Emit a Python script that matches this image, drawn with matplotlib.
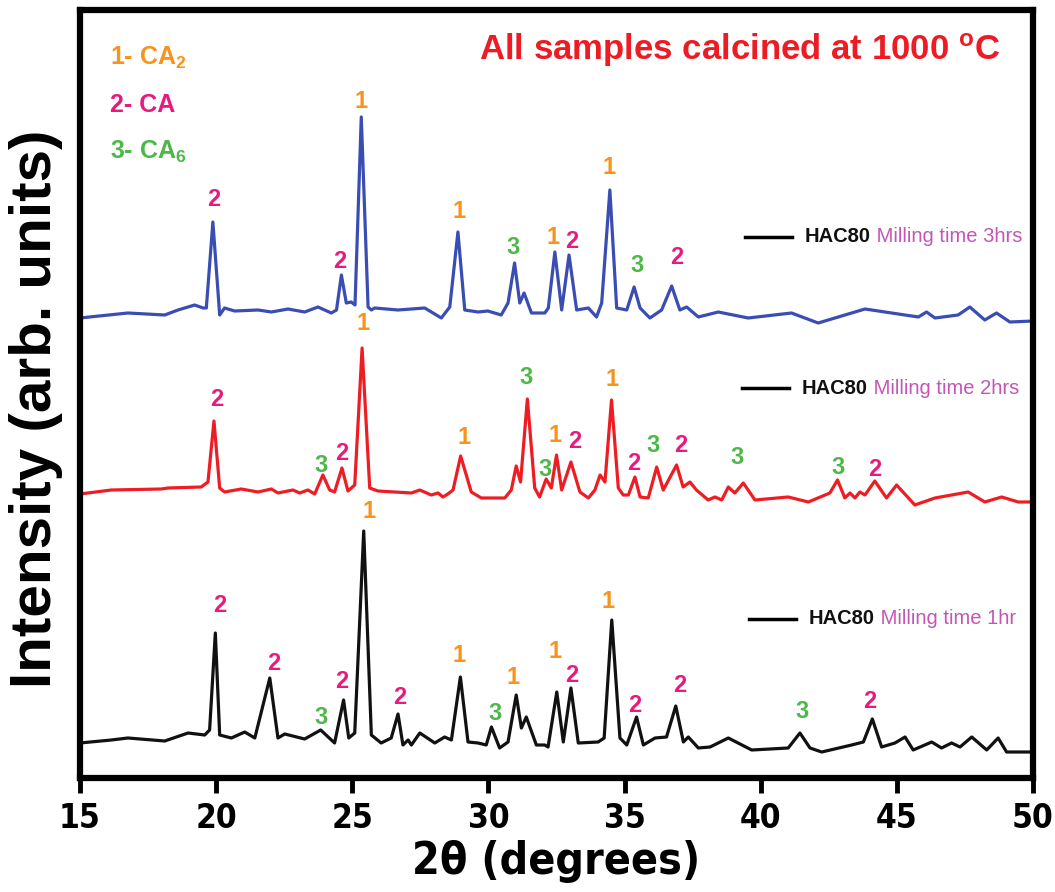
import matplotlib
matplotlib.use("Agg")
import matplotlib.pyplot as plt
from matplotlib import font_manager

plt.rcParams['font.family'] = ['Liberation Sans', 'DejaVu Sans']
plt.rcParams['mathtext.fontset'] = 'custom'
plt.rcParams['mathtext.rm'] = 'Liberation Sans:bold'
plt.rcParams['mathtext.it'] = 'Liberation Sans:bold'
plt.rcParams['mathtext.bf'] = 'Liberation Sans:bold'

# ---- traces (2theta in degrees, intensity in arb. units) ----
tt_3h = [15.0, 16.76, 18.11, 18.6, 19.21, 19.52, 19.64, 19.88, 20.13, 20.31, 20.68, 21.54,
         22.03, 22.64, 23.25, 23.74, 24.23, 24.42, 24.6, 24.78, 24.96, 25.1, 25.33, 25.58,
         25.7, 25.82, 26.68, 27.66, 28.27, 28.58, 28.88, 29.13, 29.62, 29.98, 30.47, 30.72,
         30.96, 31.15, 31.31, 31.58, 32.07, 32.2, 32.44, 32.69, 32.96, 33.24, 33.67, 33.97,
         34.16, 34.46, 34.71, 35.08, 35.35, 35.57, 35.93, 36.36, 36.73, 37.03, 37.28, 37.71,
         38.44, 39.54, 41.13, 42.11, 43.83, 45.79, 46.09, 46.4, 47.25, 47.68, 48.23, 48.66,
         49.15, 50.0]
I_3h = [482, 487, 485, 490, 495, 492, 492, 578, 485, 492, 489, 490,
        488, 491, 488, 493, 487, 490, 525, 497, 498, 495, 683, 493,
        490, 492, 490, 492, 482, 493, 568, 490, 488, 489, 485, 497,
        537, 497, 507, 487, 487, 492, 548, 490, 545, 490, 492, 483,
        497, 610, 492, 490, 513, 492, 482, 490, 514, 490, 493, 483,
        488, 482, 487, 477, 491, 483, 488, 482, 485, 493, 480, 487,
        478, 479]

tt_2h = [15.0, 16.15, 17.99, 18.23, 19.45, 19.7, 19.92, 20.13, 20.31, 20.92, 21.54, 22.03,
         22.27, 22.82, 23.07, 23.37, 23.62, 23.92, 24.17, 24.35, 24.62, 24.84, 25.09, 25.36,
         25.64, 25.94, 26.56, 27.17, 27.48, 27.9, 28.15, 28.33, 28.51, 28.7, 28.98, 29.37,
         29.74, 30.6, 30.84, 31.02, 31.18, 31.43, 31.7, 31.88, 32.12, 32.31, 32.5, 32.69,
         33.03, 33.36, 33.67, 33.91, 34.1, 34.28, 34.52, 34.77, 34.95, 35.14, 35.38, 35.57,
         35.87, 36.18, 36.42, 36.91, 37.15, 37.4, 37.64, 38.07, 38.32, 38.57, 38.81, 39.05,
         39.36, 39.79, 41.01, 41.75, 42.54, 42.82, 43.09, 43.28, 43.46, 43.64, 43.83, 44.19,
         44.62, 44.99, 45.66, 46.4, 47.62, 48.23, 48.85, 49.46, 50.0]
I_2h = [306, 310, 311, 312, 313, 318, 379, 312, 308, 311, 308, 311,
        307, 310, 307, 310, 306, 325, 310, 308, 332, 309, 315, 452,
        312, 309, 308, 307, 310, 305, 307, 303, 306, 310, 344, 308,
        302, 302, 310, 334, 318, 401, 312, 303, 321, 312, 345, 310,
        338, 308, 302, 310, 325, 318, 400, 312, 305, 305, 323, 303,
        302, 333, 310, 335, 313, 318, 310, 300, 303, 300, 313, 307,
        317, 300, 303, 298, 307, 320, 302, 307, 302, 308, 305, 319,
        302, 315, 295, 302, 308, 298, 303, 298, 298]

tt_1h = [15.0, 16.15, 16.76, 18.11, 18.97, 19.58, 19.76, 19.97, 20.13, 20.56, 21.05, 21.42,
         21.97, 22.27, 22.52, 23.25, 23.84, 24.35, 24.68, 24.87, 25.09, 25.42, 25.7, 26.06,
         26.43, 26.68, 26.86, 27.05, 27.17, 27.48, 28.03, 28.39, 28.64, 28.97, 29.25, 29.62,
         29.92, 30.11, 30.41, 30.72, 31.02, 31.21, 31.39, 31.76, 32.07, 32.19, 32.51, 32.75,
         33.03, 33.3, 34.03, 34.25, 34.53, 34.83, 35.08, 35.44, 35.69, 36.12, 36.54, 36.88,
         37.16, 37.34, 37.71, 38.14, 38.81, 39.67, 41.01, 41.44, 41.81, 42.24, 43.34, 43.77,
         44.1, 44.44, 44.93, 45.3, 45.6, 46.28, 46.64, 47.01, 47.32, 47.75, 48.3, 48.72,
         49.03, 49.83, 50.0]
I_1h = [57, 60, 62, 59, 67, 65, 70, 167, 65, 62, 68, 62,
        122, 62, 66, 61, 70, 57, 100, 62, 67, 269, 65, 57,
        62, 86, 55, 60, 55, 67, 57, 63, 60, 123, 58, 57,
        55, 73, 52, 58, 105, 72, 83, 55, 55, 53, 108, 58,
        112, 57, 58, 62, 180, 62, 55, 83, 55, 62, 63, 94,
        58, 63, 52, 53, 62, 50, 52, 67, 52, 48, 55, 58,
        81, 53, 57, 63, 50, 58, 52, 57, 53, 63, 50, 62,
        48, 48, 48]

# ---- phase labels (1 = CA2, 2 = CA, 3 = CA6) ----
lbl_3h_x = [19.92, 24.54, 25.31, 28.91, 30.9, 32.37, 33.05, 34.44, 35.44, 36.91]
lbl_3h_y = [600, 538, 698, 588, 552, 563, 558, 632, 535, 542]
lbl_3h_t = ['2', '2', '1', '1', '3', '1', '2', '1', '3', '2']

lbl_2h_x = [20.04, 23.86, 24.6, 25.39, 29.12, 31.39, 32.07, 32.45, 33.18, 34.55,
            35.32, 36.05, 37.07, 39.12, 42.85, 44.17]
lbl_2h_y = [400, 335, 347, 477, 362, 423, 330, 365, 358, 420,
            337, 355, 355, 343, 333, 330]
lbl_2h_t = ['2', '3', '2', '1', '1', '3', '3', '1', '2', '1',
            '2', '3', '2', '3', '3', '2']

lbl_1h_x = [20.13, 22.12, 23.84, 24.6, 25.62, 26.74, 28.91, 30.23, 30.9, 32.44,
            33.06, 34.4, 35.38, 37.03, 41.5, 44.01]
lbl_1h_y = [195, 137, 83, 118, 288, 103, 145, 86, 122, 149,
            124, 199, 95, 114, 88, 98]
lbl_1h_t = ['2', '2', '3', '2', '1', '2', '1', '3', '1', '1',
            '2', '1', '2', '2', '3', '2']

samples = ['Milling time 3hrs', 'Milling time 2hrs', 'Milling time 1hr']
sample_y = [563, 412, 181]
sample_x0 = [39.42, 39.31, 39.57]

phase_names = ['1- CA$_2$', '2- CA', '3- CA$_6$']

orange = '#f7941d'
pink = '#e8197f'
green = '#4cb848'
mauve = '#c455b5'
phase_col = {'1': orange, '2': pink, '3': green}

# condensed bold face for the x axis
narrow = font_manager.FontProperties(family='DejaVu Sans', weight='bold', stretch='condensed')

fig = plt.figure(figsize=(10.55, 8.92), dpi=100)
ax = fig.add_axes([80 / 1055, 1 - 778 / 892, 953 / 1055, 768 / 892])

ax.plot(tt_3h, I_3h, color='#3a4db3', lw=2.3, solid_joinstyle='round')
ax.plot(tt_2h, I_2h, color='#ee1d23', lw=2.3, solid_joinstyle='round')
ax.plot(tt_1h, I_1h, color='#111111', lw=2.3, solid_joinstyle='round')

for xs, ys, ts in [(lbl_3h_x, lbl_3h_y, lbl_3h_t),
                   (lbl_2h_x, lbl_2h_y, lbl_2h_t),
                   (lbl_1h_x, lbl_1h_y, lbl_1h_t)]:
    for x, y, t in zip(xs, ys, ts):
        ax.text(x, y, t, color=phase_col[t], fontsize=17, fontweight='bold',
                ha='center', va='center')

# phase key, top left
for i, name in enumerate(phase_names):
    ax.text(16.1, 742 - i * 47, name, color=phase_col[str(i + 1)], fontsize=18,
            fontweight='bold', ha='left', va='center')

ax.text(48.79, 750, 'All samples calcined at 1000 $^\\mathbf{o}$C', color='#ed1c24',
        fontsize=25, fontweight='bold', ha='right', va='center')

# sample captions
for name, y, x0 in zip(samples, sample_y, sample_x0):
    ax.plot([x0, x0 + 1.73], [y, y], color='black', lw=2.5)
    t1 = ax.text(x0 + 2.2, y, 'HAC80', fontsize=14.5, fontweight='bold',
                 color='#111111', ha='left', va='center')
    ax.annotate(' ' + name, xy=(1, 0.5), xycoords=t1, fontsize=14.5, color=mauve,
                ha='left', va='center')

ax.set_xlim(15, 50)
ax.set_ylim(22, 790)
ax.set_xticks([15, 20, 25, 30, 35, 40, 45, 50])
ax.set_yticks([])
for s in ax.spines.values():
    s.set_linewidth(4.5)
ax.tick_params(axis='x', direction='out', length=11, width=3.5, pad=6)
for lab in ax.get_xticklabels():
    lab.set_fontproperties(narrow)
    lab.set_fontsize(24)

ax.set_xlabel('2θ (degrees)', fontproperties=narrow, fontsize=32, labelpad=4)
ax.xaxis.label.set_fontweight('bold')
fig.text(36 / 1055, 1 - 409 / 892, 'Intensity (arb. units)', rotation=90,
         fontsize=42, fontweight='bold', ha='center', va='center')

fig.savefig('out.png', dpi=100)
